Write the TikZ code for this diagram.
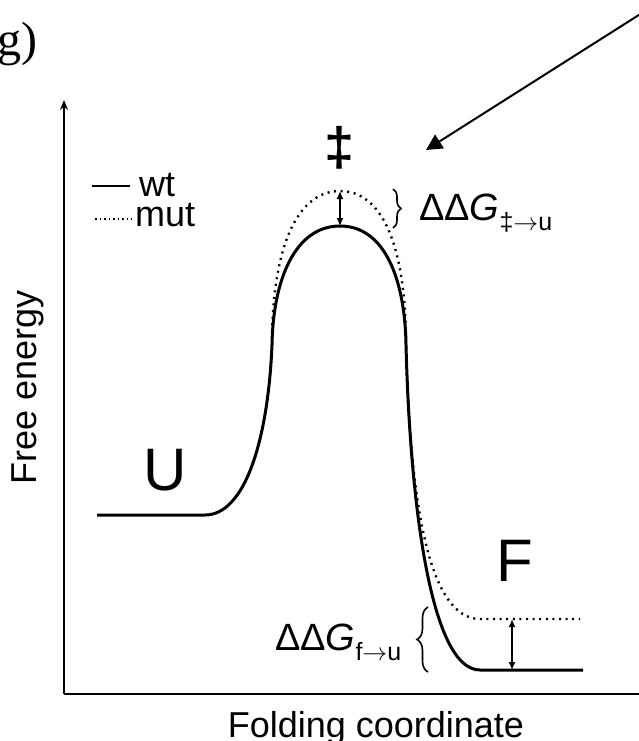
\documentclass[tikz,border=0pt]{standalone}
\usepackage{fontspec}
\setmainfont{Liberation Sans}
\newfontfamily\panelfont{Liberation Serif}
\usepackage{tikz}
\usetikzlibrary{arrows.meta,positioning,decorations.pathreplacing}

\newcommand{\ddG}[2]{ΔΔ\textit{G}\raisebox{-10pt}{\fontsize{25}{25}\selectfont #1$\rightarrow$#2}}

\tikzset{
  axisline/.style={line width=2pt},
  wtline/.style={line width=3pt},
  mutline/.style={line width=2.4pt,dash pattern=on 2pt off 4.6pt},
  biglabel/.style={inner sep=0pt,font=\fontsize{36}{36}\selectfont},
  statelabel/.style={inner sep=0pt,font=\fontsize{60}{60}\selectfont},
  gaplabel/.style={inner sep=0pt,anchor=base west,font=\fontsize{38}{38}\selectfont},
  gapbrace/.style={decorate,line width=1.6pt},
}

\begin{document}
\begin{tikzpicture}[x=1pt,y=-1pt,>={Latex[length=8pt,width=7pt]}]
\useasboundingbox (0,0) rectangle (639,741);

% axes
\coordinate (origin) at (64,694);
\coordinate (ytop) at (64,100);
\coordinate (xend) at (639,694);
\draw[axisline,-{Stealth[length=10pt,width=8pt]}] (origin) -- (ytop);
\draw[axisline] (origin) -- (xend);
\node[biglabel,anchor=base] (xlab) at (376,737) {Folding coordinate};
\node[biglabel,anchor=base,rotate=90] (ylab) at (36,387) {Free energy};

% wild type profile
\draw[wtline] (97,515) -- (205,515)
  .. controls (245,515) and (268,440) .. (272,345)
  .. controls (273,280) and (295,226) .. (340,226)
  .. controls (385,226) and (405,280) .. (406,345)
  .. controls (410,500) and (430,670) .. (480,670) -- (583,670);

% mutant profile
\draw[mutline] (272,345)
  .. controls (272,245) and (298,191) .. (340,191)
  .. controls (382,191) and (406,245) .. (406,345)
  .. controls (410,500) and (428,619) .. (480,619) -- (580,619);

% states
\node[statelabel,anchor=base] (unf) at (165,490) {U};
\node[statelabel,anchor=base] (fold) at (515,581) {F};
\node[inner sep=0pt,font=\fontsize{54}{54}\selectfont\bfseries] (ts) at (340,148) {‡};

% legend
\coordinate (wtA) at (92,186);
\coordinate (wtB) at (130,186);
\coordinate (mutA) at (95,219);
\coordinate (mutB) at (132,219);
\draw[line width=2.4pt] (wtA) -- (wtB);
\draw[line width=1.6pt,dash pattern=on 1.5pt off 3pt] (mutA) -- (mutB);
\node[biglabel,anchor=base west] (wtlab) at (139,196) {wt};
\node[biglabel,anchor=base west] (mutlab) at (135,226) {mut};

% barrier shift
\coordinate (mutTS) at (340,191);
\coordinate (wtTS) at (340,226);
\draw[<->,line width=1.4pt] (mutTS) -- (wtTS);
\draw[gapbrace,decoration={brace,amplitude=8pt}] (393,189) -- (393,228);
\node[gaplabel] (ddgts) at (419,220) {\ddG{‡}{u}};

% stability shift
\coordinate (mutF) at (512,619);
\coordinate (wtF) at (512,670);
\draw[<->,line width=1.6pt] (mutF) -- (wtF);
\draw[gapbrace,decoration={brace,amplitude=11pt}] (428,672) -- (428,607);
\node[gaplabel] (ddgf) at (275,650) {\ddG{f}{u}};

% pointer and panel letter
\coordinate (ptrA) at (642,13);
\coordinate (ptrB) at (426,150);
\draw[line width=2pt,-{Triangle[length=16pt,width=16pt]}] (ptrA) -- (ptrB);
\node[inner sep=0pt,anchor=base west,font=\panelfont\fontsize{48}{48}\selectfont] (panel) at (-3,56) {g)};
\end{tikzpicture}
\end{document}
